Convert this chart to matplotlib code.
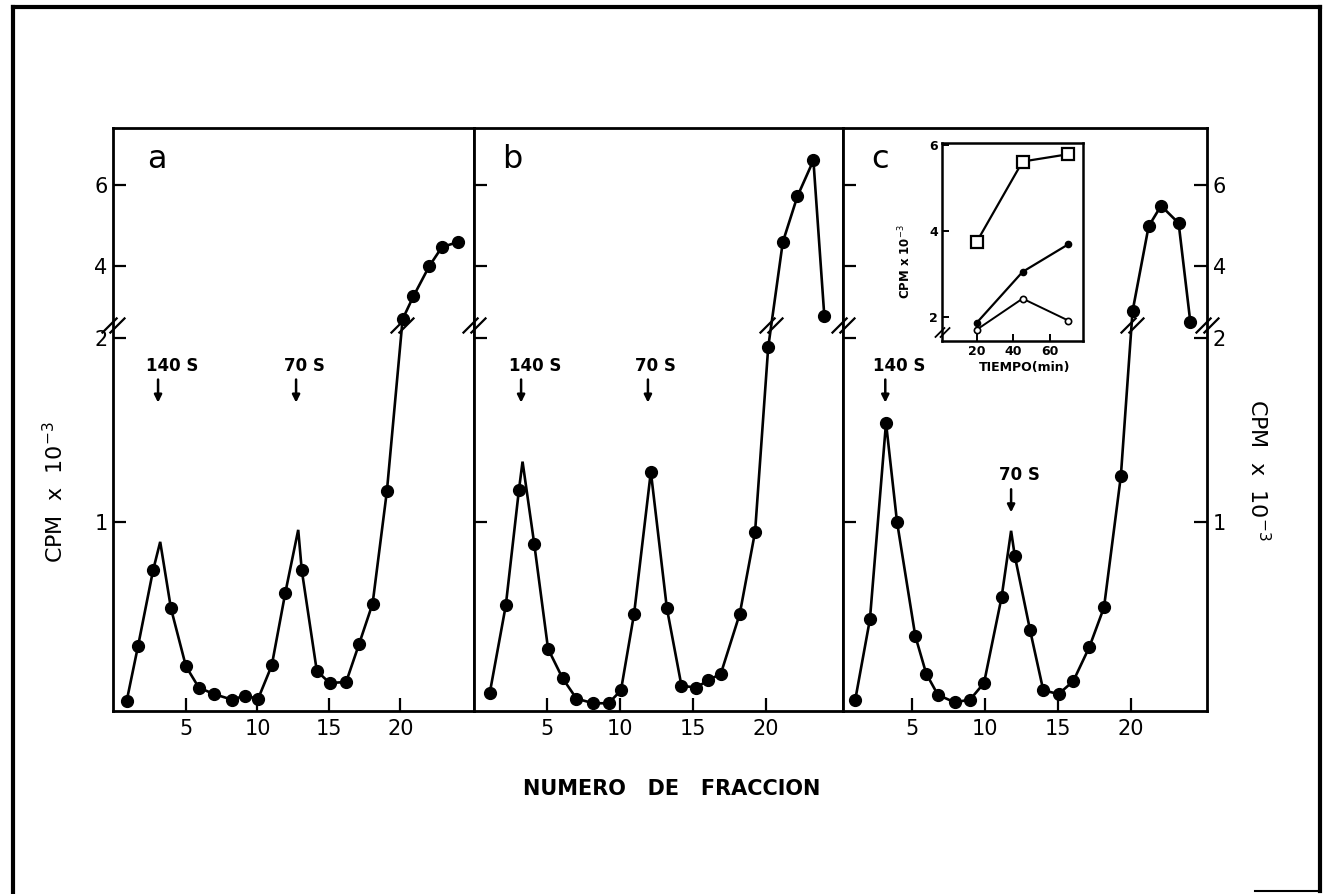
import numpy as np
import matplotlib
matplotlib.use("Agg")
import matplotlib.pyplot as plt
from matplotlib.path import Path
from matplotlib.lines import Line2D

# ---- gradient fractions and radioactivity (CPM x 10^-3) ----
frac_a = [0.85, 1.65, 2.7, 3.95, 5.0, 5.9, 6.95, 8.2, 9.1, 10.05, 11.0, 11.95,
          13.1, 14.15, 15.05, 16.2, 17.1, 18.05, 19.05, 20.15, 20.9, 22.0, 22.9, 24.0]
cpm_a = [0.03, 0.33, 0.74, 0.535, 0.22, 0.105, 0.07, 0.04, 0.06, 0.045, 0.225, 0.62,
         0.74, 0.195, 0.13, 0.135, 0.34, 0.56, 1.17, 2.68, 3.24, 3.98, 4.46, 4.58]
apex_a_x = [3.2, 12.85]
apex_a_y = [0.895, 0.96]

frac_b = [1.05, 2.15, 3.05, 4.1, 5.05, 6.05, 7.0, 8.15, 9.2, 10.05, 10.95, 12.1,
          13.2, 14.2, 15.2, 16.05, 16.9, 18.2, 19.25, 20.15, 21.15, 22.15, 23.25, 24.0]
cpm_b = [0.075, 0.55, 1.175, 0.885, 0.315, 0.155, 0.045, 0.02, 0.02, 0.09, 0.505, 1.275,
         0.535, 0.115, 0.105, 0.145, 0.18, 0.505, 0.95, 1.95, 4.58, 5.71, 6.60, 2.75]
apex_b_x = [3.3]
apex_b_y = [1.33]

frac_c = [1.15, 2.15, 3.25, 4.0, 5.25, 6.0, 6.8, 7.95, 9.0, 9.95, 11.15, 12.05,
          13.1, 14.0, 15.05, 16.05, 17.15, 18.15, 19.3, 20.1, 21.2, 22.05, 23.25, 24.05]
cpm_c = [0.04, 0.475, 1.54, 1.005, 0.385, 0.18, 0.065, 0.025, 0.04, 0.13, 0.595, 0.82,
         0.415, 0.09, 0.07, 0.14, 0.325, 0.54, 1.25, 2.87, 4.97, 5.48, 5.05, 2.61]
apex_c_x = [11.8]
apex_c_y = [0.955]

# sedimentation markers: (fraction, label)
markers_a = [(3.05, "140 S"), (12.7, "70 S")]
markers_b = [(3.2, "140 S"), (11.9, "70 S")]
markers_c = [(3.2, "140 S"), (11.8, "70 S")]
marker_top_c70 = 1.18

# inset: incorporation vs time
tiempo = [20, 45, 70]
ins_cuadrados = [3.75, 5.61, 5.78]
ins_llenos = [1.87, 3.05, 3.69]
ins_vacios = [1.71, 2.43, 1.92]

panel_letters = ["a", "b", "c"]
y_ticks = [1, 2, 4, 6]
x_ticks = [5, 10, 15, 20]

# ---- broken y scale: 0..2 expanded, upper part compressed ----
LOW_TOP, UP_START, UP_RATIO = 2.07, 2.54, 0.2195
_d = [-10.0, LOW_TOP, UP_START, 20.0]
_t = [-10.0, LOW_TOP, LOW_TOP + 0.002, LOW_TOP + 0.002 + (20.0 - UP_START) * UP_RATIO]


def fwd(y):
    return np.interp(y, _d, _t)


def inv(t):
    return np.interp(t, _t, _d)


BREAK_Y = 2.3  # lies inside the compressed gap

# "//" break symbol as a marker path
brk_path = Path([(-0.75, -0.5), (0.25, 0.5), (-0.25, -0.5), (0.75, 0.5)],
                [Path.MOVETO, Path.LINETO, Path.MOVETO, Path.LINETO])

W, H = 1330, 894
fig = plt.figure(figsize=(W / 100, H / 100), dpi=100)
plt.rcParams['font.family'] = ['DejaVu Sans']


def rect(x0, y0, x1, y1):
    return [x0 / W, 1 - y1 / H, (x1 - x0) / W, (y1 - y0) / H]


panels = [
    (rect(113, 128, 474, 711), (-0.1, 25.14), frac_a, cpm_a, apex_a_x, apex_a_y, markers_a),
    (rect(474, 128, 843, 711), (-0.03, 25.28), frac_b, cpm_b, apex_b_x, apex_b_y, markers_b),
    (rect(843, 128, 1207, 711), (0.31, 25.19), frac_c, cpm_c, apex_c_x, apex_c_y, markers_c),
]

ylim = (-0.022, 7.40)
axes = []
for i, (r, xl, fx, fy, ax_x, ax_y, mk) in enumerate(panels):
    ax = fig.add_axes(r)
    axes.append(ax)
    ax.set_yscale('function', functions=(fwd, inv))
    ax.set_xlim(*xl)
    ax.set_ylim(*ylim)
    for s in ax.spines.values():
        s.set_linewidth(2.0)

    # curve passes through the hand-drawn apexes as well as the measured points
    cx = np.array(list(fx) + list(ax_x))
    cy = np.array(list(fy) + list(ax_y))
    order = np.argsort(cx)
    cx, cy = cx[order], cy[order]
    ax.plot(cx, cy, color='k', lw=1.9, solid_joinstyle='miter', zorder=3)
    ax.plot(fx, fy, 'o', color='k', ms=8.5, zorder=4)

    # break symbol where the curve crosses the scale break
    tt = fwd(cy)
    tb = fwd(BREAK_Y)
    for j in range(len(cx) - 1):
        if (tt[j] - tb) * (tt[j + 1] - tb) < 0:
            xc = cx[j] + (cx[j + 1] - cx[j]) * (tb - tt[j]) / (tt[j + 1] - tt[j])
            ax.plot([xc], [BREAK_Y], marker=brk_path, ms=17, mew=1.6,
                    color='k', ls='none', zorder=5)

    # break symbol on the left spine (and right spine of the last panel)
    ax.plot([xl[0]], [BREAK_Y], marker=brk_path, ms=17, mew=1.6, color='k',
            ls='none', clip_on=False, zorder=6)
    if i == 2:
        ax.plot([xl[1]], [BREAK_Y], marker=brk_path, ms=17, mew=1.6, color='k',
                ls='none', clip_on=False, zorder=6)

    ax.set_yticks(y_ticks)
    ax.set_yticklabels([str(v) for v in y_ticks])
    ax.set_xticks(x_ticks)
    ax.set_xticklabels([str(v) for v in x_ticks])
    ax.tick_params(axis='both', direction='in', length=9.5, width=1.6,
                   labelsize=15, color='k')
    ax.tick_params(axis='x', pad=6)
    if i == 0:
        ax.tick_params(axis='y', left=True, right=False, labelleft=True,
                       labelright=False, pad=4)
    elif i == 1:
        ax.tick_params(axis='y', left=True, right=False, labelleft=False,
                       labelright=False)
    else:
        ax.tick_params(axis='y', left=True, right=True, labelleft=False,
                       labelright=True, pad=4)

    # sedimentation markers with arrows
    for k, (mx, lab) in enumerate(mk):
        top = 1.775
        if i == 2 and k == 1:
            top = marker_top_c70
        ax.annotate('', xy=(mx, top - 0.125), xytext=(mx, top),
                    arrowprops=dict(arrowstyle='-|>', color='k', lw=1.8,
                                    mutation_scale=11, shrinkA=0, shrinkB=0))
        ax.annotate(lab, xy=(mx, top), xytext=(-9, 3.5), textcoords='offset points',
                    ha='left', va='bottom', fontsize=12, fontweight='bold')

# panel letters
for lx, letter in zip([157, 512, 880], panel_letters):
    fig.text(lx / W, 1 - 168 / H, letter, ha='center', va='baseline', fontsize=23)

# axis titles
fig.text(55 / W, 1 - 492 / H, 'CPM  x  10$^{-3}$', rotation=90, ha='center',
         va='center', fontsize=16)
fig.text(1258 / W, 1 - 470 / H, 'CPM  x  10$^{-3}$', rotation=270, ha='center',
         va='center', fontsize=16)
fig.text(672 / W, 1 - 789 / H, 'NUMERO   DE   FRACCION', ha='center', va='center',
         fontsize=15, fontweight='bold')

# ---- inset ----
ins = fig.add_axes(rect(942, 143, 1083, 341))
for s in ins.spines.values():
    s.set_linewidth(1.8)
ins.set_xlim(1, 78)
ins.set_ylim(1.446, 6.04)
ins.plot(tiempo, ins_cuadrados, '-s', color='k', lw=1.6, ms=8, mfc='white', mew=1.6)
ins.plot(tiempo, ins_llenos, '-o', color='k', lw=1.6, ms=4.5, mew=1.0)
ins.plot(tiempo, ins_vacios, '-o', color='k', lw=1.4, ms=4.5, mfc='white', mew=1.2)
ins.set_xticks([20, 40, 60])
ins.set_yticks([2, 4, 6])
ins.tick_params(direction='in', length=5, width=1.4, labelsize=9, pad=3)
for lab in ins.get_xticklabels() + ins.get_yticklabels():
    lab.set_fontweight('bold')
ins.plot([1], [1.66], marker=brk_path, ms=11, mew=1.3, color='k', ls='none',
         clip_on=False)
fig.text(1025 / W, 1 - 367 / H, 'TIEMPO(min)', ha='center', va='center',
         fontsize=9, fontweight='bold')
fig.text(905 / W, 1 - 262 / H, 'CPM x 10$^{-3}$', rotation=90, ha='center',
         va='center', fontsize=8.5, fontweight='bold')

# ---- outer frame ----
for xs, ys, lw in [([13, 13], [7, 894], 3.0), ([13, 1320], [7, 7], 3.0),
                   ([1320, 1320], [7, 891], 3.0), ([1255, 1320], [891, 891], 1.5)]:
    fig.add_artist(Line2D([x / W for x in xs], [1 - y / H for y in ys],
                          transform=fig.transFigure, color='k', lw=lw))

fig.savefig('out.png', dpi=100)
